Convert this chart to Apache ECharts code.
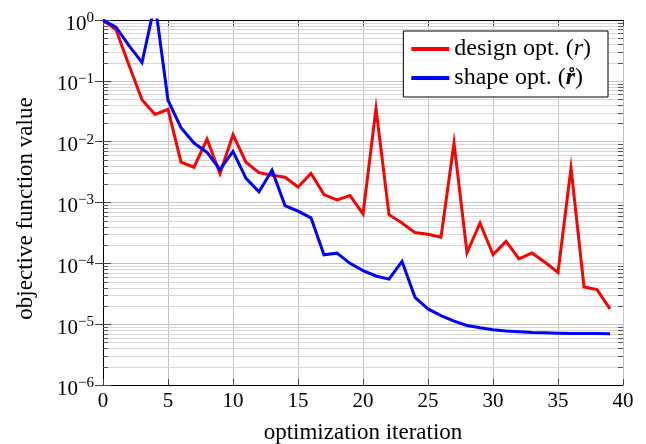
<!DOCTYPE html>
<html>
<head>
<meta charset="utf-8">
<script src="https://cdn.jsdelivr.net/npm/echarts@6/dist/echarts.min.js"></script>
<style>html,body{margin:0;padding:0;background:#fff}#c{width:646px;height:444px}</style>
</head>
<body>
<div id="c"></div>
<script>
// ---- data ----
const iterations = [0,1,2,3,4,5,6,7,8,9,10,11,12,13,14,15,16,17,18,19,20,21,22,23,24,25,26,27,28,29,30,31,32,33,34,35,36,37,38,39];
const designOpt = [1, 0.69, 0.18, 0.049, 0.028, 0.034, 0.0046, 0.0038, 0.011, 0.0030,
  0.013, 0.0046, 0.0031, 0.0028, 0.0026, 0.0018, 0.0030, 0.00135, 0.0011, 0.0013,
  0.00065, 0.035, 0.00063, 0.00046, 0.00032, 0.00030, 0.00027, 0.0095, 0.00015, 0.00046,
  0.000139, 0.00023, 0.000118, 0.000148, 0.000104, 0.000071, 0.0037, 0.000041, 0.000037, 0.0000178];
const shapeOpt = [1, 0.76, 0.38, 0.20, 1.9, 0.048, 0.017, 0.0095, 0.0067, 0.0035,
  0.0069, 0.0025, 0.0015, 0.0034, 0.00089, 0.00072, 0.00056, 0.000138, 0.000147, 0.0001,
  0.000076, 0.000062, 0.000055, 0.000108, 0.0000276, 0.0000178, 0.0000138, 0.0000112, 0.0000095, 0.0000087,
  0.0000081, 0.0000077, 0.0000075, 0.0000073, 0.0000072, 0.0000071, 0.00000705, 0.0000070, 0.0000070, 0.00000695];
const seriesNames = ['design opt. (r)', 'shape opt. (r\u030A)'];
const xTicks = [0,5,10,15,20,25,30,35,40];
const yDecades = [-6,-5,-4,-3,-2,-1,0];
const minorMultipliers = [2,3,4,5,6,7,8,9];
const xTitle = 'optimization iteration';
const yTitle = 'objective function value';

// minor log tick positions
const minorVals = [];
yDecades.slice(0, -1).forEach(d => minorMultipliers.forEach(m => minorVals.push([0, m * Math.pow(10, d)])));

const FONT = 'Liberation Serif';
const chart = echarts.init(document.getElementById('c'), null, {renderer: 'canvas'});

function expLabel(v) {
  const e = Math.round(Math.log10(v));
  const s = e < 0 ? '\u2212' + (-e) : String(e);
  return '{b|10}{s|' + s + '}';
}

const xMin = xTicks[0], xMax = xTicks[xTicks.length - 1];

chart.setOption({
  animation: false,
  backgroundColor: '#fff',
  grid: {left: 103, right: 23, top: 20, bottom: 59, containLabel: false, outerBoundsMode: 'none'},
  legend: {
    data: seriesNames,
    orient: 'vertical',
    right: 38, top: 31,
    backgroundColor: '#fff',
    borderColor: '#000', borderWidth: 1, borderRadius: 0,
    padding: [6, 17, 7, 8],
    itemWidth: 38, itemHeight: 4, itemGap: 5,
    icon: 'rect',
    selectedMode: false,
    textStyle: {
      fontFamily: FONT, fontSize: 24, color: '#000', lineHeight: 24,
      rich: {
        i: {fontFamily: FONT, fontSize: 24, fontStyle: 'italic', color: '#000', lineHeight: 24},
        bi: {fontFamily: FONT, fontSize: 24, fontStyle: 'italic', fontWeight: 'bold', color: '#000', lineHeight: 24}
      }
    },
    formatter: function (name) {
      if (name === seriesNames[0]) return 'design opt. ({i|r})';
      return 'shape opt. ({bi|r\u030A})';
    }
  },
  xAxis: [{
    type: 'value', min: xMin, max: xMax, interval: 5,
    name: xTitle, nameLocation: 'middle', nameGap: 36,
    nameTextStyle: {fontFamily: FONT, fontSize: 23, color: '#000'},
    axisLine: {show: true, lineStyle: {color: '#000', width: 1}},
    axisTick: {show: true, inside: true, length: 6, lineStyle: {color: '#444'}},
    axisLabel: {fontFamily: FONT, fontSize: 21, color: '#000', margin: 6},
    splitLine: {show: true, lineStyle: {color: '#c4c4c4', width: 1}}
  }, {
    type: 'value', min: xMin, max: xMax, interval: 5, position: 'top',
    axisLine: {show: true, lineStyle: {color: '#000', width: 1}},
    axisTick: {show: true, inside: true, length: 6, lineStyle: {color: '#444'}},
    axisLabel: {show: false},
    splitLine: {show: false}
  }],
  yAxis: [{
    type: 'log', logBase: 10, min: 1e-6, max: 1, interval: 1,
    name: yTitle, nameLocation: 'middle', nameGap: 66, nameRotate: 90,
    nameTextStyle: {fontFamily: FONT, fontSize: 23, color: '#000', padding: [0, 12, 0, 0]},
    axisLine: {show: true, lineStyle: {color: '#000', width: 1}},
    axisTick: {show: true, inside: true, length: 8, lineStyle: {color: '#444'}},
    axisLabel: {
      margin: 9, formatter: expLabel, padding: [5, 0, 0, 0],
      rich: {
        b: {fontFamily: FONT, fontSize: 21, color: '#000', lineHeight: 24, verticalAlign: 'bottom'},
        s: {fontFamily: FONT, fontSize: 15, color: '#000', lineHeight: 13, verticalAlign: 'top'}
      }
    },
    splitLine: {show: true, lineStyle: {color: '#c4c4c4', width: 1}}
  }, {
    type: 'log', logBase: 10, min: 1e-6, max: 1, interval: 1, position: 'right',
    axisLine: {show: true, lineStyle: {color: '#000', width: 1}},
    axisTick: {show: true, inside: true, length: 8, lineStyle: {color: '#444'}},
    axisLabel: {show: false},
    splitLine: {show: false}
  }],
  series: [{
    type: 'custom', name: 'minor', silent: true, z: 1,
    xAxisIndex: 0, yAxisIndex: 0,
    data: minorVals,
    clip: false,
    renderItem: function (params, api) {
      const v = api.value(1);
      const p0 = api.coord([xMin, v]);
      const p1 = api.coord([xMax, v]);
      const y = Math.round(p0[1]) + 0.5;
      return {type: 'group', children: [
        {type: 'line', shape: {x1: p0[0], y1: y, x2: p1[0], y2: y}, style: {stroke: '#d6d6d6', lineWidth: 1}},
        {type: 'line', shape: {x1: p0[0], y1: y, x2: p0[0] + 5, y2: y}, style: {stroke: '#555', lineWidth: 1}},
        {type: 'line', shape: {x1: p1[0], y1: y, x2: p1[0] - 5, y2: y}, style: {stroke: '#555', lineWidth: 1}}
      ]};
    }
  }, {
    type: 'line', name: seriesNames[0], z: 3,
    data: iterations.map((x, i) => [x, designOpt[i]]),
    showSymbol: false, symbol: 'none',
    color: '#ff0000',
    lineStyle: {color: '#ff0000', width: 3, join: 'miter', miterLimit: 10},
    emphasis: {disabled: true}
  }, {
    type: 'line', name: seriesNames[1], z: 4,
    data: iterations.map((x, i) => [x, shapeOpt[i]]),
    showSymbol: false, symbol: 'none',
    color: '#0000ff',
    lineStyle: {color: '#0000ff', width: 3, join: 'miter', miterLimit: 10},
    emphasis: {disabled: true}
  }]
});
</script>
</body>
</html>
